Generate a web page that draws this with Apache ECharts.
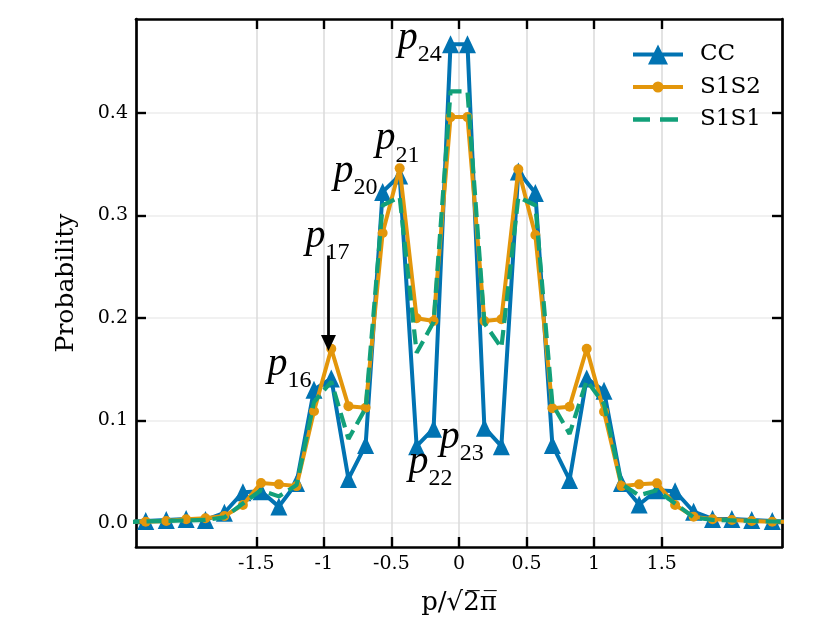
<!DOCTYPE html>
<html>
<head>
<meta charset="utf-8">
<script src="https://cdn.jsdelivr.net/npm/echarts@6.0.0/dist/echarts.min.js"></script>
<style>
  html, body { margin: 0; padding: 0; background: #fff; }
  #chart { width: 830px; height: 642px; }
</style>
</head>
<body>
<div id="chart"></div>
<script>
// momentum grid, p / sqrt(2 pi); the outer two points sit just outside the frame
var momenta = [-2.475, -2.318, -2.166, -2.019, -1.876, -1.736, -1.599, -1.465, -1.333, -1.202,
  -1.073, -0.945, -0.818, -0.691, -0.565, -0.439, -0.3135, -0.188, -0.0627,
  0.0627, 0.188, 0.3135, 0.439, 0.565, 0.691, 0.818, 0.945, 1.073, 1.202,
  1.333, 1.465, 1.599, 1.736, 1.876, 2.019, 2.166, 2.318, 2.475];

var probCC = [0.001, 0.002, 0.003, 0.004, 0.003, 0.010, 0.030, 0.031, 0.016, 0.039,
  0.130, 0.141, 0.043, 0.076, 0.323, 0.339, 0.075, 0.092, 0.467,
  0.467, 0.093, 0.075, 0.343, 0.322, 0.076, 0.042, 0.141, 0.129, 0.039,
  0.018, 0.032, 0.031, 0.011, 0.004, 0.004, 0.003, 0.002, 0.001];

var probS1S2 = [0.001, 0.0013, 0.002, 0.0036, 0.0046, 0.0068, 0.0176, 0.039, 0.0377, 0.036,
  0.109, 0.170, 0.114, 0.1125, 0.283, 0.346, 0.1997, 0.197, 0.396,
  0.396, 0.197, 0.1987, 0.345, 0.281, 0.112, 0.1135, 0.170, 0.1086, 0.036,
  0.0377, 0.0387, 0.0176, 0.0062, 0.0036, 0.003, 0.002, 0.0013, 0.001];

var probS1S1 = [0.001, 0.0015, 0.002, 0.0025, 0.003, 0.0055, 0.019, 0.032, 0.026, 0.037,
  0.118, 0.138, 0.082, 0.112, 0.310, 0.318, 0.166, 0.196, 0.421,
  0.421, 0.195, 0.171, 0.318, 0.310, 0.116, 0.087, 0.139, 0.116, 0.038,
  0.027, 0.032, 0.019, 0.0055, 0.003, 0.0025, 0.002, 0.0015, 0.001];

var xTicks = [-1.5, -1, -0.5, 0, 0.5, 1, 1.5];
var yTicks = [0, 0.1, 0.2, 0.3, 0.4];

// point labels: [subscript, x, y] in data units (centre of the label)
var pointLabels = [
  ['24', -0.29, 0.469],
  ['21', -0.455, 0.371],
  ['20', -0.765, 0.339],
  ['17', -0.973, 0.276],
  ['16', -1.255, 0.151],
  ['22', -0.21, 0.055],
  ['23', 0.02, 0.080]
];
var arrowFrom = [-0.966, 0.261];
var arrowTo = [-0.966, 0.1756];

function pairs(ys) {
  return momenta.map(function (x, i) { return [x, ys[i]]; });
}

// legend glyphs drawn in a 50x22 box (tiny corner squares pin the box)
var PIN = 'M0,0h0.01v0.01h-0.01Z M50,22h-0.01v-0.01h0.01Z ';
var iconCC = 'path://' + PIN + 'M0,9H50V13H0Z M15,21L25,1L35,21Z';
var iconS1S2 = 'path://' + PIN + 'M0,9H50V13H0Z M30.5,11A5.5,5.5 0 1 1 19.5,11A5.5,5.5 0 1 1 30.5,11Z';
var iconS1S1 = 'path://' + PIN + 'M0,8.8H17V13.2H0Z M27,8.8H45V13.2H27Z';

var SERIF = 'DejaVu Serif';
var frame = { show: true, onZero: false, lineStyle: { color: '#000', width: 2.7 } };
var tickStyle = function (vals) {
  return { inside: true, length: 10, lineStyle: { color: '#000', width: 2.4 }, customValues: vals };
};

var chart = echarts.init(document.getElementById('chart'));
var option = {
  animation: false,
  backgroundColor: '#fff',
  grid: { left: 136, right: 48, top: 19, bottom: 95 },
  legend: {
    orient: 'vertical',
    left: 628,
    top: 38,
    itemWidth: 50,
    itemHeight: 22,
    itemGap: 9.5,
    data: [
      { name: 'CC', icon: iconCC },
      { name: 'S1S2', icon: iconS1S2 },
      { name: 'S1S1', icon: iconS1S1 }
    ],
    textStyle: { fontFamily: SERIF, fontSize: 23, color: '#000', padding: [0, 0, 0, 12] }
  },
  xAxis: [{
    type: 'value',
    min: -2.39, max: 2.39,
    position: 'bottom',
    name: 'p/\u221a2\u0305\u03c0\u0305',
    nameLocation: 'middle',
    nameGap: 43,
    nameTextStyle: { fontFamily: SERIF, fontSize: 26, color: '#000' },
    axisLine: frame,
    axisTick: tickStyle(xTicks),
    axisLabel: { customValues: xTicks, margin: 8, fontFamily: SERIF, fontSize: 19, color: '#000' },
    splitLine: { show: true, lineStyle: { color: '#dcdcdc', width: 1.6 } }
  }, {
    type: 'value',
    min: -2.39, max: 2.39,
    position: 'top',
    axisLine: frame,
    axisTick: tickStyle(xTicks),
    axisLabel: { show: false },
    splitLine: { show: false }
  }],
  yAxis: [{
    type: 'value',
    min: -0.0234, max: 0.4917,
    position: 'left',
    name: 'Probability',
    nameLocation: 'middle',
    nameGap: 57,
    nameTextStyle: { fontFamily: SERIF, fontSize: 25, color: '#000' },
    axisLine: frame,
    axisTick: tickStyle(yTicks),
    axisLabel: {
      customValues: yTicks, margin: 8, fontFamily: SERIF, fontSize: 19, color: '#000',
      formatter: function (v) { return v.toFixed(1); }
    },
    splitLine: { show: true, lineStyle: { color: '#ececec', width: 1.6 } }
  }, {
    type: 'value',
    min: -0.0234, max: 0.4917,
    position: 'right',
    axisLine: frame,
    axisTick: tickStyle(yTicks),
    axisLabel: { show: false },
    splitLine: { show: false }
  }],
  series: [{
    name: 'CC',
    type: 'line',
    data: pairs(probCC),
    symbol: 'triangle',
    symbolSize: [17, 18],
    color: '#0173b2',
    lineStyle: { width: 4, color: '#0173b2' },
    itemStyle: { color: '#0173b2' },
    clip: true,
    z: 2,
    markLine: {
      silent: true,
      symbol: ['none', 'triangle'],
      symbolSize: [15, 16],
      label: { show: false },
      lineStyle: { color: '#000', width: 2.8, type: 'solid' },
      data: [[{ coord: arrowFrom }, { coord: arrowTo }]]
    }
  }, {
    name: 'S1S2',
    type: 'line',
    data: pairs(probS1S2),
    symbol: 'circle',
    symbolSize: 10,
    color: '#e3960b',
    lineStyle: { width: 4, color: '#e3960b' },
    itemStyle: { color: '#e3960b' },
    clip: true,
    z: 3
  }, {
    name: 'S1S1',
    type: 'line',
    data: pairs(probS1S1),
    symbol: 'none',
    color: '#12a079',
    itemStyle: { color: '#12a079' },
    lineStyle: { width: 4.2, color: '#12a079', type: [15, 7] },
    clip: true,
    z: 4
  }]
};
chart.setOption(option);

// subscripted point labels, placed through the axes
var graphics = pointLabels.map(function (lab) {
  var pt = chart.convertToPixel({ gridIndex: 0 }, [lab[1], lab[2]]);
  return {
    type: 'text',
    x: pt[0], y: pt[1] - 4,
    z: 10,
    style: {
      text: '{p|p}{s|' + lab[0] + '}',
      align: 'center',
      verticalAlign: 'middle',
      rich: {
        p: { fontFamily: 'Liberation Serif', fontStyle: 'italic', fontSize: 40, lineHeight: 40, verticalAlign: 'middle', fill: '#000' },
        s: { fontFamily: 'Liberation Serif', fontSize: 24, lineHeight: 57, verticalAlign: 'bottom', fill: '#000' }
      }
    }
  };
});
chart.setOption({ graphic: graphics });
</script>
</body>
</html>
